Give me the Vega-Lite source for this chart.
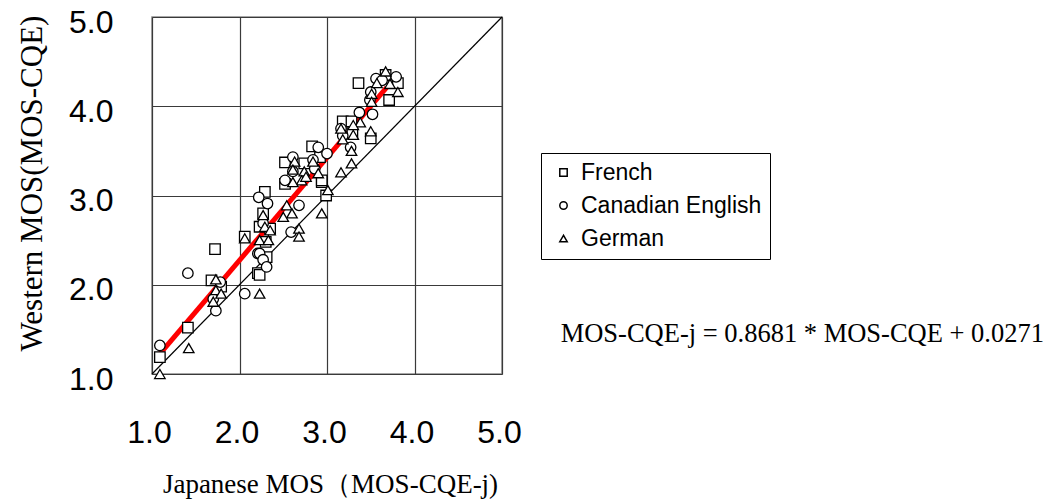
{
  "$schema": "https://vega.github.io/schema/vega-lite/v6.json",
  "autosize": {"type": "pad"},
  "padding": {"left": 15, "top": 6, "right": 5, "bottom": 5},
  "width": 350,
  "height": 357,
  "background": "white",
  "config": {
    "view": {"stroke": "#8a8a8a", "strokeWidth": 1.5},
    "axis": {"grid": true, "gridColor": "#3a3a3a", "gridWidth": 1.2, "gridOpacity": 1, "domain": false, "ticks": false, "labelColor": "black", "titleColor": "black", "labelFont": "Liberation Sans", "titleFont": "Liberation Serif", "titleFontWeight": "normal", "labelOverlap": false, "labelFlush": false, "labelBound": false}
  },
  "datasets": {
    "points": [
      {"jp": 1.09, "west": 1.19, "lang": "French"},
      {"jp": 1.41, "west": 1.52, "lang": "French"},
      {"jp": 1.72, "west": 2.40, "lang": "French"},
      {"jp": 1.68, "west": 2.05, "lang": "French"},
      {"jp": 1.79, "west": 1.98, "lang": "French"},
      {"jp": 2.06, "west": 2.54, "lang": "French"},
      {"jp": 2.21, "west": 2.13, "lang": "French"},
      {"jp": 2.29, "west": 3.04, "lang": "French"},
      {"jp": 2.27, "west": 2.80, "lang": "French"},
      {"jp": 2.23, "west": 2.65, "lang": "French"},
      {"jp": 2.35, "west": 2.63, "lang": "French"},
      {"jp": 2.30, "west": 2.48, "lang": "French"},
      {"jp": 2.31, "west": 2.31, "lang": "French"},
      {"jp": 2.23, "west": 2.11, "lang": "French"},
      {"jp": 2.94, "west": 3.15, "lang": "French"},
      {"jp": 2.99, "west": 3.00, "lang": "French"},
      {"jp": 2.83, "west": 3.55, "lang": "French"},
      {"jp": 2.52, "west": 3.37, "lang": "French"},
      {"jp": 2.74, "west": 3.36, "lang": "French"},
      {"jp": 2.92, "west": 3.43, "lang": "French"},
      {"jp": 2.94, "west": 3.17, "lang": "French"},
      {"jp": 2.52, "west": 3.13, "lang": "French"},
      {"jp": 3.36, "west": 4.26, "lang": "French"},
      {"jp": 3.67, "west": 4.35, "lang": "French"},
      {"jp": 3.81, "west": 4.26, "lang": "French"},
      {"jp": 3.71, "west": 4.07, "lang": "French"},
      {"jp": 3.18, "west": 3.83, "lang": "French"},
      {"jp": 3.28, "west": 3.83, "lang": "French"},
      {"jp": 3.29, "west": 3.70, "lang": "French"},
      {"jp": 3.50, "west": 3.64, "lang": "French"},
      {"jp": 1.09, "west": 1.32, "lang": "Canadian English"},
      {"jp": 1.41, "west": 2.13, "lang": "Canadian English"},
      {"jp": 1.78, "west": 2.03, "lang": "Canadian English"},
      {"jp": 1.70, "west": 1.84, "lang": "Canadian English"},
      {"jp": 1.73, "west": 1.71, "lang": "Canadian English"},
      {"jp": 2.06, "west": 1.90, "lang": "Canadian English"},
      {"jp": 2.21, "west": 2.35, "lang": "Canadian English"},
      {"jp": 2.22, "west": 2.98, "lang": "Canadian English"},
      {"jp": 2.32, "west": 2.91, "lang": "Canadian English"},
      {"jp": 2.68, "west": 2.89, "lang": "Canadian English"},
      {"jp": 2.27, "west": 2.69, "lang": "Canadian English"},
      {"jp": 2.23, "west": 2.35, "lang": "Canadian English"},
      {"jp": 2.27, "west": 2.28, "lang": "Canadian English"},
      {"jp": 2.31, "west": 2.20, "lang": "Canadian English"},
      {"jp": 2.59, "west": 2.59, "lang": "Canadian English"},
      {"jp": 2.90, "west": 3.54, "lang": "Canadian English"},
      {"jp": 3.00, "west": 3.47, "lang": "Canadian English"},
      {"jp": 2.61, "west": 3.43, "lang": "Canadian English"},
      {"jp": 2.84, "west": 3.40, "lang": "Canadian English"},
      {"jp": 2.86, "west": 3.30, "lang": "Canadian English"},
      {"jp": 2.52, "west": 3.17, "lang": "Canadian English"},
      {"jp": 2.61, "west": 3.27, "lang": "Canadian English"},
      {"jp": 3.56, "west": 4.31, "lang": "Canadian English"},
      {"jp": 3.79, "west": 4.33, "lang": "Canadian English"},
      {"jp": 3.63, "west": 4.29, "lang": "Canadian English"},
      {"jp": 3.50, "west": 4.16, "lang": "Canadian English"},
      {"jp": 3.49, "west": 4.07, "lang": "Canadian English"},
      {"jp": 3.37, "west": 3.93, "lang": "Canadian English"},
      {"jp": 3.52, "west": 3.91, "lang": "Canadian English"},
      {"jp": 3.16, "west": 3.75, "lang": "Canadian English"},
      {"jp": 3.18, "west": 3.67, "lang": "Canadian English"},
      {"jp": 3.27, "west": 3.54, "lang": "Canadian English"},
      {"jp": 1.09, "west": 1.00, "lang": "German"},
      {"jp": 1.42, "west": 1.29, "lang": "German"},
      {"jp": 1.73, "west": 2.06, "lang": "German"},
      {"jp": 1.73, "west": 1.94, "lang": "German"},
      {"jp": 1.79, "west": 1.90, "lang": "German"},
      {"jp": 1.70, "west": 1.81, "lang": "German"},
      {"jp": 2.23, "west": 1.90, "lang": "German"},
      {"jp": 2.06, "west": 2.52, "lang": "German"},
      {"jp": 2.27, "west": 2.78, "lang": "German"},
      {"jp": 2.54, "west": 2.89, "lang": "German"},
      {"jp": 2.60, "west": 2.80, "lang": "German"},
      {"jp": 2.50, "west": 2.76, "lang": "German"},
      {"jp": 2.29, "west": 2.65, "lang": "German"},
      {"jp": 2.35, "west": 2.61, "lang": "German"},
      {"jp": 2.23, "west": 2.50, "lang": "German"},
      {"jp": 2.33, "west": 2.50, "lang": "German"},
      {"jp": 2.68, "west": 2.63, "lang": "German"},
      {"jp": 2.68, "west": 2.54, "lang": "German"},
      {"jp": 2.94, "west": 2.80, "lang": "German"},
      {"jp": 3.01, "west": 3.06, "lang": "German"},
      {"jp": 2.63, "west": 3.38, "lang": "German"},
      {"jp": 2.84, "west": 3.38, "lang": "German"},
      {"jp": 2.61, "west": 3.29, "lang": "German"},
      {"jp": 2.74, "west": 3.27, "lang": "German"},
      {"jp": 2.90, "west": 3.25, "lang": "German"},
      {"jp": 2.71, "west": 3.17, "lang": "German"},
      {"jp": 2.61, "west": 3.15, "lang": "German"},
      {"jp": 2.76, "west": 3.21, "lang": "German"},
      {"jp": 3.16, "west": 3.26, "lang": "German"},
      {"jp": 3.28, "west": 3.36, "lang": "German"},
      {"jp": 3.57, "west": 4.26, "lang": "German"},
      {"jp": 3.67, "west": 4.39, "lang": "German"},
      {"jp": 3.72, "west": 4.25, "lang": "German"},
      {"jp": 3.51, "west": 4.14, "lang": "German"},
      {"jp": 3.81, "west": 4.16, "lang": "German"},
      {"jp": 3.51, "west": 4.05, "lang": "German"},
      {"jp": 3.16, "west": 3.75, "lang": "German"},
      {"jp": 3.38, "west": 3.82, "lang": "German"},
      {"jp": 3.30, "west": 3.68, "lang": "German"},
      {"jp": 3.18, "west": 3.63, "lang": "German"},
      {"jp": 3.50, "west": 3.72, "lang": "German"},
      {"jp": 3.28, "west": 3.50, "lang": "German"},
      {"jp": 3.30, "west": 3.79, "lang": "German"}
    ],
    "diagonal": [{"jp": 1, "west": 1}, {"jp": 5, "west": 5}],
    "fit": [{"jp": 1.09, "west": 1.225}, {"jp": 3.68, "west": 4.21}],
    "eq": [{"label": "MOS-CQE-j = 0.8681 * MOS-CQE + 0.0271", "ex": 5.67, "ey": 1.45}]
  },
  "layer": [
    {"data": {"name": "diagonal"}, "mark": {"type": "line", "color": "black", "strokeWidth": 1.2},
      "encoding": {
        "x": {"field": "jp", "type": "quantitative", "scale": {"domain": [1, 5], "nice": false, "zero": false},
          "axis": {"values": [1, 2, 3, 4, 5], "format": ".1f", "labelFontSize": 32, "labelPadding": 43, "labelOffset": -3,
            "title": "Japanese MOS（MOS-CQE-j)", "titleFontSize": 27, "titleX": 178, "titleY": 110, "titleAlign": "center", "titleBaseline": "middle", "titleAnchor": null}},
        "y": {"field": "west", "type": "quantitative", "scale": {"domain": [1, 5], "nice": false, "zero": false},
          "axis": {"values": [1, 2, 3, 4, 5], "format": ".1f", "labelFontSize": 32, "labelPadding": 39, "labelOffset": 5,
            "title": "Western MOS(MOS-CQE)", "titleFontSize": 31, "titleX": -120, "titleY": 166, "titleAngle": -90, "titleAlign": "center", "titleBaseline": "middle"}}
      }},
    {"data": {"name": "fit"}, "mark": {"type": "line", "color": "#ff0000", "strokeWidth": 5},
      "encoding": {"x": {"field": "jp", "type": "quantitative"}, "y": {"field": "west", "type": "quantitative"}}},
    {"data": {"name": "points"},
      "mark": {"type": "point", "filled": true, "fill": "white", "stroke": "black", "strokeWidth": 1.3, "opacity": 1, "fillOpacity": 1, "size": 110},
      "encoding": {
        "x": {"field": "jp", "type": "quantitative"},
        "y": {"field": "west", "type": "quantitative"},
        "shape": {"field": "lang", "type": "nominal",
          "scale": {"domain": ["French", "Canadian English", "German"], "range": ["square", "circle", "triangle-up"]},
          "legend": {"title": null, "orient": "none", "legendX": 389, "legendY": 136, "padding": 8,
            "strokeColor": "black", "fillColor": "white", "labelFont": "Liberation Sans", "labelFontSize": 23, "labelColor": "black", "labelLimit": 400,
            "symbolSize": 55, "symbolOffset": 3, "labelOffset": 6, "rowPadding": 9,
            "encode": {"symbols": {"update": {"fill": {"value": "white"}, "stroke": {"value": "black"}, "strokeWidth": {"value": 1}, "opacity": {"value": 1}}}}}}
      }},
    {"data": {"name": "eq"}, "mark": {"type": "text", "font": "Liberation Serif", "fontSize": 26.5, "align": "left", "baseline": "middle", "color": "black"},
      "encoding": {"text": {"field": "label", "type": "nominal"}, "x": {"field": "ex", "type": "quantitative"}, "y": {"field": "ey", "type": "quantitative"}}}
  ]
}
